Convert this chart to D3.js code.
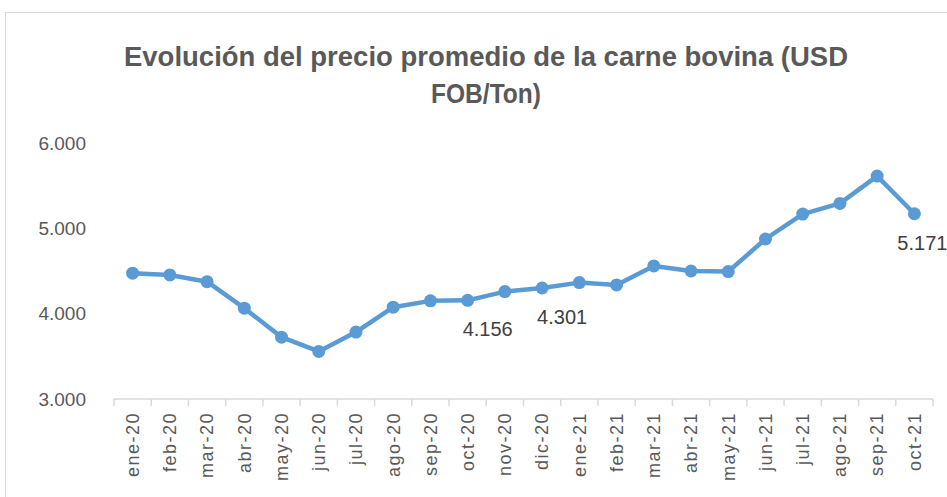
<!DOCTYPE html>
<html lang="es">
<head>
    <meta charset="UTF-8">
    <title>Evolución del precio promedio de la carne bovina</title>
    <script src="https://d3js.org/d3.v7.min.js"></script>
    <style>
        body { margin: 0; background: #fff; overflow: hidden; font-family: "Liberation Sans", Arial, sans-serif; }
    </style>
</head>
<body>
    <div id="chart"></div>
    <script>
        // months and average price (USD FOB/Ton)
        const months = ["ene-20","feb-20","mar-20","abr-20","may-20","jun-20","jul-20","ago-20","sep-20","oct-20","nov-20","dic-20",
                        "ene-21","feb-21","mar-21","abr-21","may-21","jun-21","jul-21","ago-21","sep-21","oct-21"];
        const prices = [4474, 4454, 4375, 4064, 3725, 3557, 3784, 4076, 4150, 4156, 4259, 4301,
                        4364, 4337, 4559, 4500, 4493, 4875, 5167, 5292, 5612, 5171];
        const labelled = ["oct-20", "dic-20", "oct-21"];
        const yTicks = [3000, 4000, 5000, 6000];

        const width = 947, height = 497;
        const margin = { top: 143, right: 14, bottom: 98, left: 114 };

        const svg = d3.select("#chart").append("svg")
            .attr("width", width)
            .attr("height", height);

        // chart frame
        svg.append("rect")
            .attr("x", 5.5).attr("y", 12.5)
            .attr("width", 960).attr("height", 520)
            .attr("fill", "#fff")
            .attr("stroke", "#d9d9d9");

        const title = svg.append("text")
            .attr("text-anchor", "middle")
            .attr("fill", "#595959")
            .style("font-size", "27px")
            .style("font-weight", "bold");
        title.append("tspan").attr("x", 486).attr("y", 66)
            .attr("textLength", 724).attr("lengthAdjust", "spacingAndGlyphs")
            .text("Evolución del precio promedio de la carne bovina (USD");
        title.append("tspan").attr("x", 486).attr("y", 103)
            .attr("textLength", 110).attr("lengthAdjust", "spacingAndGlyphs")
            .text("FOB/Ton)");

        const x = d3.scaleBand().domain(months).range([margin.left, width - margin.right]);
        const y = d3.scaleLinear().domain([3000, 6000]).range([height - margin.bottom, margin.top]);

        const fmt = v => d3.format(",")(v).replace(/,/g, ".");

        // y axis labels
        svg.append("g")
            .selectAll("text")
            .data(yTicks)
            .join("text")
            .attr("x", 86)
            .attr("y", d => y(d))
            .attr("dy", "0.35em")
            .attr("text-anchor", "end")
            .attr("fill", "#595959")
            .style("font-size", "19px")
            .text(d => fmt(d));

        // x axis
        const xAxis = svg.append("g")
            .attr("transform", `translate(0, ${y(3000)})`);
        xAxis.append("line")
            .attr("x1", x.range()[0]).attr("x2", x.range()[1])
            .attr("stroke", "#d9d9d9").attr("stroke-width", 1.5);
        xAxis.selectAll(".tick")
            .data(months.concat([null]))
            .join("line")
            .attr("x1", (d, i) => x.range()[0] + i * x.step())
            .attr("x2", (d, i) => x.range()[0] + i * x.step())
            .attr("y1", 0).attr("y2", 7)
            .attr("stroke", "#d9d9d9").attr("stroke-width", 1.5);
        xAxis.selectAll(".lbl")
            .data(months)
            .join("text")
            .attr("transform", d => `translate(${x(d) + x.bandwidth() / 2}, 13) rotate(-90)`)
            .attr("text-anchor", "end")
            .attr("dy", "0.35em")
            .attr("fill", "#595959")
            .style("font-size", "18px")
            .style("letter-spacing", "1.5px")
            .text(d => d);

        const cx = d => x(d) + x.bandwidth() / 2;
        const series = months.map((m, i) => ({ month: m, value: prices[i] }));

        const line = d3.line()
            .x(d => cx(d.month))
            .y(d => y(d.value));

        svg.append("path")
            .datum(series)
            .attr("fill", "none")
            .attr("stroke", "#5b9bd5")
            .attr("stroke-width", 4.5)
            .attr("stroke-linejoin", "round")
            .attr("d", line);

        svg.append("g")
            .selectAll("circle")
            .data(series)
            .join("circle")
            .attr("cx", d => cx(d.month))
            .attr("cy", d => y(d.value))
            .attr("r", 6.5)
            .attr("fill", "#5b9bd5");

        // data labels (shifted right/below as in the original)
        svg.append("g")
            .selectAll("text")
            .data(series.filter(d => labelled.includes(d.month)))
            .join("text")
            .attr("x", d => cx(d.month) + (d.month === "oct-21" ? 8 : 20))
            .attr("y", d => y(d.value) + 36)
            .attr("text-anchor", "middle")
            .attr("fill", "#404040")
            .style("font-size", "20px")
            .text(d => fmt(d.value));
    </script>
</body>
</html>
